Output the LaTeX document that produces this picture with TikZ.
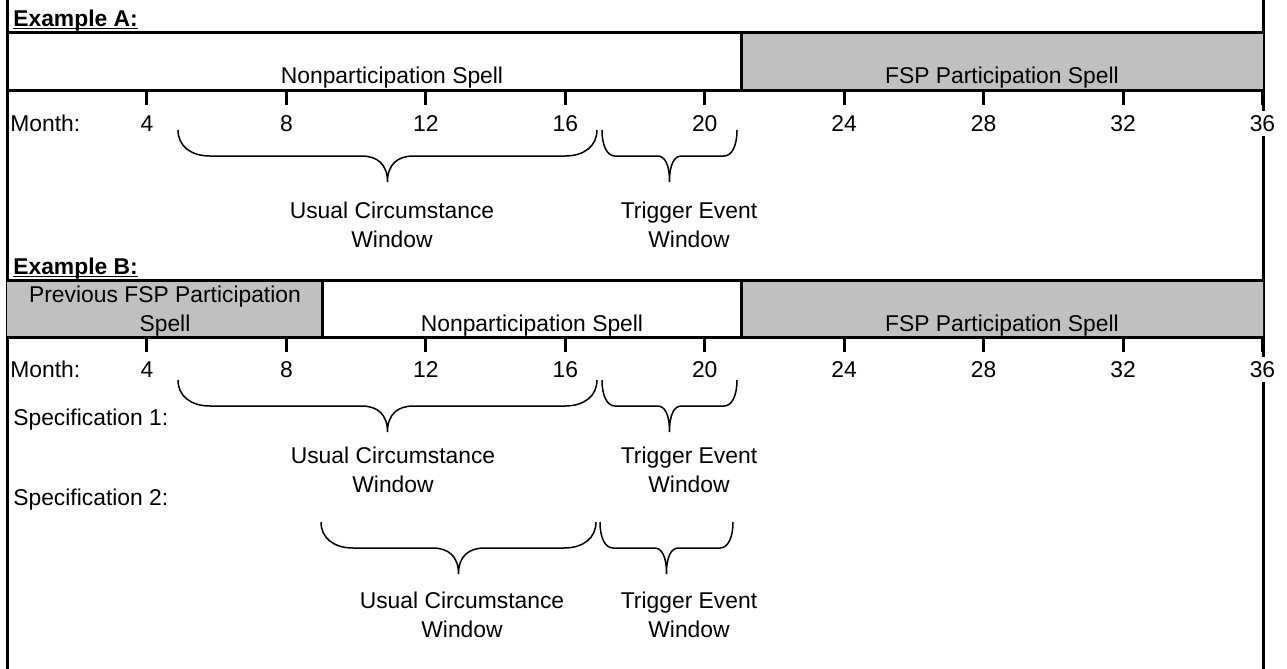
\documentclass[tikz,border=0pt]{standalone}
\usepackage{fontspec}
\setmainfont{Liberation Sans}
\usepackage{tikz}
\definecolor{spellgray}{HTML}{C0C0C0}

% curly brace under a window: left x, right x, top y, corner, tip corner
\newcommand{\spanbrace}[5]{%
  \pgfmathsetmacro{\bmid}{(#1+#2)/2}%
  \draw[bracelook] (#1,#3) .. controls (#1,#3+16) and (#1+#4*0.4,#3+26) .. (#1+#4,#3+26)
    -- (\bmid-#5,#3+26) .. controls (\bmid-#5*0.4,#3+26) and (\bmid,#3+34) .. (\bmid,#3+52)
    .. controls (\bmid,#3+34) and (\bmid+#5*0.4,#3+26) .. (\bmid+#5,#3+26)
    -- (#2-#4,#3+26) .. controls (#2-#4*0.4,#3+26) and (#2,#3+16) .. (#2,#3);}

\begin{document}
\begin{tikzpicture}[x=0.2mm,y=-0.2mm,
  every node/.style={font=\fontsize{13}{16}\selectfont, inner sep=0pt},
  frame/.style={line width=0.6mm},
  bracelook/.style={line width=0.3mm},
  monthnum/.style={anchor=base, fill=white, inner xsep=1pt, inner ysep=2.5pt}]
  \useasboundingbox (0,0) rectangle (1287,669);

  % side rails
  \draw[frame] (7,0) -- (7,669);
  \draw[frame] (1263,0) -- (1263,669);

  % Example A
  \node[anchor=base west] (exA) at (13,26) {\underline{\smash{\textbf{Example A:}}}};
  \fill[spellgray] (741,32) rectangle (1263,90);
  \draw[frame] (7,32) -- (1263,32) (7,90) -- (1263,90) (741,32) -- (741,90);
  \node[anchor=base] (nonA) at (392,83) {Nonparticipation Spell};
  \node[anchor=base] (fspA) at (1002,83) {FSP Participation Spell};
  \foreach \m in {4,8,...,36}
    \draw[frame] ({7.5+34.86*\m},90) -- ({7.5+34.86*\m},105);
  \node[anchor=base west] (monthA) at (10,131) {Month:};
  \foreach \m in {4,8,...,36}
    \node[monthnum] (mA\m) at ({7.5+34.86*\m},131) {\m};
  \spanbrace{178}{597}{130}{32}{26}
  \spanbrace{602}{737}{130}{13}{12}
  \node[anchor=north, align=center] (ucA) at (392,202) {Usual Circumstance\\Window};
  \node[anchor=north, align=center] (teA) at (689,202) {Trigger Event\\Window};

  % Example B
  \node[anchor=base west] (exB) at (13,274) {\underline{\smash{\textbf{Example B:}}}};
  \fill[spellgray] (7,280) rectangle (322,337) (741,280) rectangle (1263,337);
  \draw[frame] (7,280) -- (1263,280) (7,337) -- (1263,337)
    (322,280) -- (322,337) (741,280) -- (741,337);
  \node[anchor=north, align=center] (prevB) at (165,286) {Previous FSP Participation\\Spell};
  \node[anchor=base] (nonB) at (532,331) {Nonparticipation Spell};
  \node[anchor=base] (fspB) at (1002,331) {FSP Participation Spell};
  \foreach \m in {4,8,...,36}
    \draw[frame] ({7.5+34.86*\m},337) -- ({7.5+34.86*\m},352);
  \node[anchor=base west] (monthB) at (10,377) {Month:};
  \foreach \m in {4,8,...,36}
    \node[monthnum] (mB\m) at ({7.5+34.86*\m},377) {\m};

  \node[anchor=base west] (specA) at (13,425) {Specification 1:};
  \spanbrace{178}{597}{380}{32}{26}
  \spanbrace{602}{737}{380}{13}{12}
  \node[anchor=north, align=center] (ucB) at (393,447) {Usual Circumstance\\Window};
  \node[anchor=north, align=center] (teB) at (689,447) {Trigger Event\\Window};

  \node[anchor=base west] (specB) at (13,505) {Specification 2:};
  \spanbrace{321}{596}{522}{32}{26}
  \spanbrace{600}{733}{522}{13}{12}
  \node[anchor=north, align=center] (ucC) at (462,592) {Usual Circumstance\\Window};
  \node[anchor=north, align=center] (teC) at (689,592) {Trigger Event\\Window};
\end{tikzpicture}
\end{document}
